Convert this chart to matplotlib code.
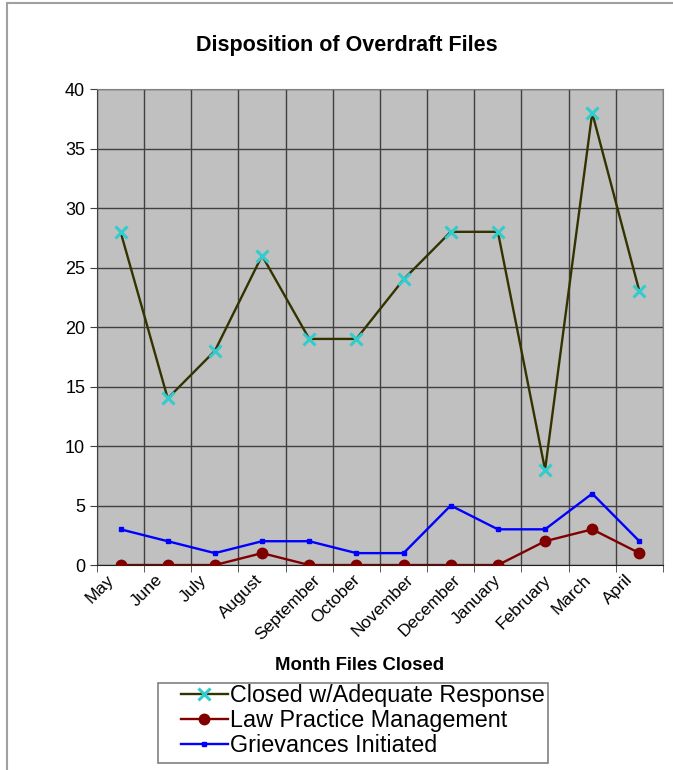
import matplotlib
matplotlib.use('Agg')
import matplotlib.pyplot as plt
from matplotlib.patches import Rectangle
from matplotlib.transforms import offset_copy

plt.rcParams['font.family'] = ['Liberation Sans', 'DejaVu Sans']

months = ['May', 'June', 'July', 'August', 'September', 'October', 'November',
          'December', 'January', 'February', 'March', 'April']
closed = [28, 14, 18, 26, 19, 19, 24, 28, 28, 8, 38, 23]
law_practice = [0, 0, 0, 1, 0, 0, 0, 0, 0, 2, 3, 1]
grievances = [3, 2, 1, 2, 2, 1, 1, 5, 3, 3, 6, 2]

fig = plt.figure(figsize=(6.73, 7.7), dpi=100)
# outer frame of the chart object
fig.patches.append(Rectangle((7 / 673, -0.1), 1.2, 1.1 - 3 / 770, transform=fig.transFigure,
                             fill=False, edgecolor='#a0a0a0', linewidth=1.5))

ax = fig.add_axes([0.1441, 0.2662, 0.8410, 0.6182])
ax.set_facecolor('#c0c0c0')
x = list(range(len(months)))

ax.plot(x, closed, color='#333300', linewidth=1.7, marker='x', markersize=8,
        markeredgecolor='#33cccc', markeredgewidth=2.2, label='Closed w/Adequate Response', zorder=3)
ax.plot(x, law_practice, color='#800000', linewidth=1.7, marker='o', markersize=7.5,
        markerfacecolor='#800000', markeredgecolor='#800000', label='Law Practice Management', zorder=4)
ax.plot(x, grievances, color='#0000ff', linewidth=1.7, marker='s', markersize=3.5,
        label='Grievances Initiated', zorder=3)

ax.set_xlim(-0.5, 11.5)
ax.set_ylim(0, 40)
ax.set_yticks(range(0, 41, 5))

# month names sit a little left of each category, rotated like the Excel axis
ax.set_xticks(x)
ax.set_xticklabels([])
ax.tick_params(axis='x', which='major', length=0)
label_trans = offset_copy(ax.get_xaxis_transform(), fig=fig, x=-21, y=-7, units='dots')
for i, m in zip(x, months):
    ax.text(i, 0, m, transform=label_trans, rotation=45, ha='center', va='top',
            fontsize=12.5, clip_on=False)

ax.set_xticks([i - 0.5 for i in range(13)], minor=True)
ax.tick_params(axis='x', which='minor', length=5, color='#404040')
ax.tick_params(axis='y', length=5, labelsize=13, color='#404040')

ax.grid(True, axis='y', color='#404040', linewidth=1)
ax.grid(True, axis='x', which='minor', color='#404040', linewidth=1)
ax.set_axisbelow(True)
for side in ['top', 'right']:
    ax.spines[side].set_color('#808080')
ax.spines['left'].set_color('#404040')
ax.spines['bottom'].set_color('#202020')

fig.text(347 / 673, 1 - 45 / 770, 'Disposition of Overdraft Files', fontsize=15.5,
         fontweight='bold', ha='center', va='center')
fig.text(360 / 673, 1 - 666 / 770, 'Month Files Closed', fontsize=13.3,
         fontweight='bold', ha='center', va='center')

# legend entries without their own frame; the box is drawn separately
leg = fig.legend(loc='upper left', bbox_to_anchor=(181 / 673, 1 - 684 / 770), fontsize=16.8,
                 frameon=False, handlelength=2.0, handletextpad=0.1, borderpad=0,
                 labelspacing=0.08, borderaxespad=0)
fig.patches.append(Rectangle((158 / 673, 1 - 763 / 770), 390 / 673, 80 / 770,
                             transform=fig.transFigure, fill=False, edgecolor='#808080',
                             linewidth=1.2))

plt.savefig('out.png', dpi=100)
